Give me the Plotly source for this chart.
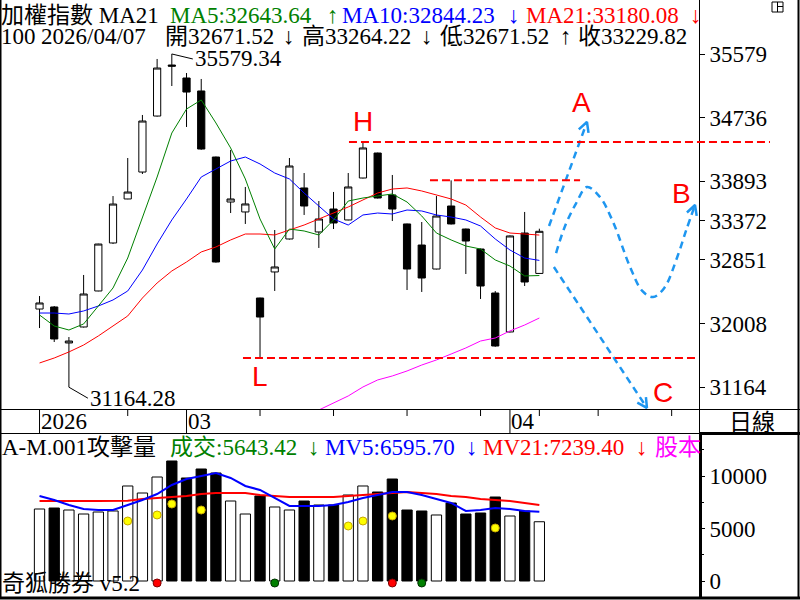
import numpy as np
import plotly.graph_objects as go

# ---------------- data ----------------
idx = list(range(35))
opens = [32200, 32227, 31750, 31962, 32439, 33075, 33658, 34015, 34757, 35433,
         35261, 35089, 34214, 33618, 33486, 32346, 32691, 33128, 33804, 33221,
         33525, 33380, 33936, 34267, 33711, 33327, 33048, 32730, 33565, 33260,
         32995, 32412, 31896, 33207, 32671.52]
highs = [32372, 32240, 31829, 32651, 33065, 33697, 34201, 34771, 35513, 35579.34,
         35327, 35248, 34220, 34307, 33817, 32350, 33247, 34201, 34002, 33631,
         33751, 34002, 34413, 34272, 33976, 33332, 33353, 33697, 33905, 33265,
         33000, 32438, 33175, 33486, 33264.22]
lows = [31948, 31763, 31164.28, 31955, 32435, 33062, 33655, 33989, 34750, 35155,
        34612, 34310, 32815, 33472, 33327, 31551, 32439, 33120, 33446, 33009,
        33260, 33375, 33930, 33665, 33366, 32452, 32426, 32725, 33320, 32664,
        32333, 31700, 31890, 32505, 32671.52]
closes = [32280, 31803, 31776, 32399, 33061, 33591, 33750, 34691, 35393, 35418,
          35075, 34320, 32823, 33658, 33592, 32094, 32757, 34095, 33565, 33393,
          33340, 33817, 34334, 33671, 33525, 32730, 32611, 33432, 33327, 33101,
          32505, 31710, 33168, 32558, 33229.82]
ma5 = [32121, 31975, 31922, 32002, 32240, 32479, 32876, 33406, 33949, 34532,
       34850, 34970, 34665, 34334, 33923, 33393, 32995, 33260, 33234, 33181,
       33380, 33631, 33671, 33698, 33724, 33618, 33433, 33207, 33115, 33035,
       32995, 32850, 32770, 32638, 32643.64]
ma10 = [32147, 32147, 32134, 32174, 32240, 32320, 32439, 32717, 33062, 33380,
        33658, 33949, 34055, 34161, 34214, 34122, 34002, 33923, 33737, 33565,
        33393, 33313, 33446, 33472, 33459, 33512, 33499, 33446, 33419, 33380,
        33300, 33128, 32982, 32876, 32844.23]
ma21 = [31485, 31551, 31631, 31723, 31843, 31975, 32108, 32346, 32545, 32704,
        32823, 32956, 33022, 33115, 33194, 33194, 33181, 33247, 33313, 33393,
        33472, 33552, 33645, 33737, 33790, 33804, 33764, 33711, 33658, 33578,
        33419, 33274, 33207, 33194, 33180.08]
ma100_idx = list(range(19, 35))
ma100 = [30862, 30955, 31048, 31167, 31260, 31313, 31379, 31458, 31525, 31604,
         31684, 31776, 31816, 31909, 31988, 32081]

volume = [6857, 6952, 6762, 6381, 6571, 6667, 9048, 8381, 9905, 11429,
          9810, 10667, 10286, 7619, 6381, 8095, 7048, 6762, 7619, 7238,
          7238, 8190, 9048, 8476, 9714, 6762, 6667, 6286, 7429, 6381,
          6476, 8000, 6190, 6667, 5643.42]
mv5 = [8095, 7714, 7238, 6857, 6762, 6762, 7238, 7714, 8286, 9143,
       9714, 10000, 10286, 9810, 9048, 8667, 7905, 7143, 7143, 7143,
       7238, 7524, 7905, 8190, 8476, 8476, 8190, 7810, 7429, 6667,
       6762, 6952, 6857, 6667, 6595.70]
mv21 = [7620, 7600, 7610, 7620, 7630, 7610, 7650, 7810, 7905, 8000,
        8095, 8286, 8381, 8381, 8381, 8190, 8095, 8000, 8000, 8000,
        8000, 8095, 8190, 8286, 8381, 8476, 8381, 8286, 8095, 8000,
        7810, 7714, 7619, 7429, 7239.40]
yellow_idx = [6, 8, 9, 11, 21, 22, 24, 31]
yellow_val = [5714, 6286, 7333, 6762, 5238, 5714, 6190, 5048]
red_idx = [8, 24]
green_idx = [16, 26]
signal_level = -190

price_ticks = [35579, 34736, 33893, 33372, 32851, 32008, 31164]
vol_ticks = [0, 5000, 10000]
date_tick_idx = [0, 10, 32]
date_tick_labels = ["2026", "03", "04"]
minor_tick_idx = [6, 15, 20, 25, 30, 34, 38, 43]
last_date = "2026/04/07"

# hand-drawn projection paths (bar index, price)
proj_A_idx = [34.66, 37.24]
proj_A_price = [33300, 34678]
proj_B_idx = [35.14, 35.75, 36.5, 37.24, 38.1, 39.0, 40.17, 41.0, 41.73, 42.5, 43.4, 44.0, 44.59]
proj_B_price = [32942, 33300, 33600, 33817, 33690, 33360, 32757, 32440, 32359, 32480, 32900, 33250, 33578]
proj_C_idx = [34.99, 41.32]
proj_C_price = [32757, 30889]
proj_labels = ["A", "B", "C"]
proj_label_idx = [36.84, 43.7, 42.41]
proj_label_price = [34930, 33737, 31100]

# ---------------- geometry ----------------
W, H = 800, 600
XR = [-2.62, 44.86]
XD = [1 / W, 699 / W]
YR_MAIN = [30875.25, 36294.5]
YD_MAIN = [191 / H, 1.0]
YR_VOL = [-1524, 14095]
YD_VOL = [3 / H, 167 / H]

def i2px(i):
    return XD[0] * W + (i - XR[0]) / (XR[1] - XR[0]) * (XD[1] - XD[0]) * W

def px2i(px):
    return XR[0] + (px - XD[0] * W) / ((XD[1] - XD[0]) * W) * (XR[1] - XR[0])

def p2py(p):
    top = (1 - YD_MAIN[1]) * H
    bot = (1 - YD_MAIN[0]) * H
    return top + (YR_MAIN[1] - p) / (YR_MAIN[1] - YR_MAIN[0]) * (bot - top)

def py2p(py):
    top = (1 - YD_MAIN[1]) * H
    bot = (1 - YD_MAIN[0]) * H
    return YR_MAIN[1] - (py - top) / (bot - top) * (YR_MAIN[1] - YR_MAIN[0])

def ypap(py):
    return 1 - py / H

SERIF = "Liberation Serif, 'Noto Sans CJK TC', serif"
SANS = "Liberation Sans, Arial, sans-serif"
GREEN, BLUE, RED, MAG = "#008000", "#0000FF", "#FF0000", "#FF00FF"
PBLUE = "#1E96F0"

fig = go.Figure()

# ---------------- main panel ----------------
fig.add_trace(go.Candlestick(
    x=idx, open=opens, high=highs, low=lows, close=closes,
    increasing=dict(line=dict(color="black", width=1), fillcolor="white"),
    decreasing=dict(line=dict(color="black", width=1), fillcolor="black"),
    whiskerwidth=0, xaxis="x", yaxis="y", showlegend=False, hoverinfo="skip"))
for vals, col in [(ma21, RED), (ma10, BLUE), (ma5, GREEN)]:
    fig.add_trace(go.Scatter(x=idx, y=vals, mode="lines", line=dict(color=col, width=1),
                             xaxis="x", yaxis="y", showlegend=False, hoverinfo="skip"))
fig.add_trace(go.Scatter(x=ma100_idx, y=ma100, mode="lines", line=dict(color=MAG, width=1),
                         xaxis="x", yaxis="y", showlegend=False, hoverinfo="skip"))

# projections
fig.add_trace(go.Scatter(x=proj_A_idx, y=proj_A_price, mode="lines",
                         line=dict(color=PBLUE, width=2.5, dash="7px,5px"), showlegend=False,
                         xaxis="x", yaxis="y", hoverinfo="skip"))
fig.add_trace(go.Scatter(x=proj_B_idx, y=proj_B_price, mode="lines",
                         line=dict(color=PBLUE, width=2.5, dash="7px,5px", shape="spline", smoothing=1.0),
                         showlegend=False, xaxis="x", yaxis="y", hoverinfo="skip"))
fig.add_trace(go.Scatter(x=proj_C_idx, y=proj_C_price, mode="lines",
                         line=dict(color=PBLUE, width=2.5, dash="7px,5px"), showlegend=False,
                         xaxis="x", yaxis="y", hoverinfo="skip"))

# open V arrowheads
def arrowhead(xs, ys, L=11, ang=28):
    tx, ty = i2px(xs[-1]), p2py(ys[-1])
    bx, by = i2px(xs[-2]), p2py(ys[-2])
    d = np.array([tx - bx, ty - by]); d = d / np.linalg.norm(d)
    hx, hy = [], []
    for s in (1, -1):
        a = np.radians(ang) * s
        r = np.array([d[0] * np.cos(a) - d[1] * np.sin(a), d[0] * np.sin(a) + d[1] * np.cos(a)])
        w = np.array([tx, ty]) - L * r
        hx += [px2i(w[0]), xs[-1]]
        hy += [py2p(w[1]), ys[-1]]
    return [hx[0], hx[1], hx[2]], [hy[0], hy[1], hy[2]]

for xs, ys in [(proj_A_idx, proj_A_price), (proj_B_idx, proj_B_price), (proj_C_idx, proj_C_price)]:
    ax_, ay_ = arrowhead(xs, ys)
    fig.add_trace(go.Scatter(x=ax_, y=ay_, mode="lines", line=dict(color=PBLUE, width=2.5),
                             showlegend=False, xaxis="x", yaxis="y", hoverinfo="skip", cliponaxis=False))

# ---------------- volume panel ----------------
vol_colors = ["white" if c >= o else "black" for o, c in zip(opens, closes)]
fig.add_trace(go.Bar(x=idx, y=volume, width=0.7, marker=dict(color=vol_colors, line=dict(color="black", width=1)),
                     xaxis="x2", yaxis="y2", showlegend=False, hoverinfo="skip"))
fig.add_trace(go.Scatter(x=idx, y=mv21, mode="lines", line=dict(color=RED, width=2),
                         xaxis="x2", yaxis="y2", showlegend=False, hoverinfo="skip"))
fig.add_trace(go.Scatter(x=idx, y=mv5, mode="lines", line=dict(color=BLUE, width=2),
                         xaxis="x2", yaxis="y2", showlegend=False, hoverinfo="skip"))
fig.add_trace(go.Scatter(x=yellow_idx, y=yellow_val, mode="markers",
                         marker=dict(color="#FFFF00", size=8, line=dict(color="#C8A800", width=1)),
                         xaxis="x2", yaxis="y2", showlegend=False, hoverinfo="skip"))
fig.add_trace(go.Scatter(x=red_idx, y=[signal_level] * len(red_idx), mode="markers",
                         marker=dict(color="#FF0000", size=8, line=dict(color="#800000", width=1)),
                         xaxis="x2", yaxis="y2", showlegend=False, hoverinfo="skip", cliponaxis=False))
fig.add_trace(go.Scatter(x=green_idx, y=[signal_level] * len(green_idx), mode="markers",
                         marker=dict(color="#008000", size=8, line=dict(color="#003000", width=1)),
                         xaxis="x2", yaxis="y2", showlegend=False, hoverinfo="skip", cliponaxis=False))

# ---------------- shapes ----------------
shapes = []
def pline(x0, y0, x1, y1, w=1, color="black"):
    shapes.append(dict(type="line", xref="paper", yref="paper", x0=x0 / W, x1=x1 / W,
                       y0=ypap(y0), y1=ypap(y1), line=dict(color=color, width=w), layer="above"))

pline(0.75, 0, 0.75, 598, 1.5)
pline(0, 409.5, 800, 409.5, 1)
pline(0, 433.5, 700, 433.5, 1)
pline(699, 433.5, 800, 433.5, 3)
pline(699.5, 0, 699.5, 433, 1)
pline(700.5, 433, 700.5, 598, 3)
pline(0, 598, 800, 598, 3)
pline(798.5, 0, 798.5, 598, 2)
# icon
shapes.append(dict(type="rect", xref="paper", yref="paper", x0=772 / W, x1=783 / W,
                   y0=ypap(12), y1=ypap(2), line=dict(color="black", width=1)))
pline(777.5, 2, 777.5, 12, 1)
pline(777.5, 6.5, 783, 6.5, 1)

# date ticks
for i in minor_tick_idx:
    shapes.append(dict(type="line", xref="x", yref="paper", x0=i, x1=i,
                       y0=ypap(409.5), y1=ypap(416), line=dict(color="black", width=1)))
for i in date_tick_idx:
    shapes.append(dict(type="line", xref="x", yref="paper", x0=i, x1=i,
                       y0=ypap(409.5), y1=ypap(433), line=dict(color="black", width=1)))

# support/resistance dashed lines
hi_i = 22; lo_i = 15; mid_i = 28
shapes.append(dict(type="line", xref="paper", yref="y", x0=i2px(21.05) / W, x1=770 / W,
                   y0=highs[hi_i], y1=highs[hi_i], line=dict(color=RED, width=2, dash="8px,4px")))
shapes.append(dict(type="line", xref="x", yref="y", x0=13.84, x1=44.73,
                   y0=lows[lo_i], y1=lows[lo_i], line=dict(color=RED, width=2, dash="8px,4px")))
shapes.append(dict(type="line", xref="x", yref="y", x0=26.56, x1=36.77,
                   y0=highs[mid_i], y1=highs[mid_i], line=dict(color=RED, width=2, dash="8px,4px")))

# ---------------- annotations ----------------
ann = []
def txt(x, y, s, color="black", size=23, font=SERIF, xanchor="left"):
    ann.append(dict(x=x / W, y=ypap(y), xref="paper", yref="paper", text=s, showarrow=False,
                    xanchor=xanchor, yanchor="middle", borderpad=0,
                    font=dict(family=font, size=size, color=color)))

txt(0, 15, "加權指數 MA21")
txt(169, 15, f"MA5:{ma5[-1]:.2f}", GREEN)
txt(326, 15, "↑", GREEN)
txt(341, 15, f"MA10:{ma10[-1]:.2f}", BLUE)
txt(507, 15, "↓", BLUE)
txt(525, 15, f"MA21:{ma21[-1]:.2f}", RED)
txt(689, 15, "↓", RED)
txt(0, 37, "100")
txt(40, 37, last_date)
txt(164, 37, f"開{opens[-1]:.2f}")
txt(282, 37, "↓")
txt(301, 37, f"高{highs[-1]:.2f}")
txt(420, 37, "↓")
txt(439, 37, f"低{lows[-1]:.2f}")
txt(559, 37, "↑")
txt(577, 37, f"收{closes[-1]:.2f}")

txt(1, 447, "A-M.001攻擊量")
txt(169, 447, f"成交:{volume[-1]:.2f}", GREEN)
txt(307, 447, "↓", GREEN)
txt(324, 447, f"MV5:{mv5[-1]:.2f}", BLUE)
txt(465, 447, "↓", BLUE)
txt(482, 447, f"MV21:{mv21[-1]:.2f}", RED)
txt(635, 447, "↓", RED)
txt(654, 447, "股本", MAG)
txt(1, 583, "奇狐勝券 v5.2")
txt(752, 422, "日線", xanchor="center")

for i, lab in zip(date_tick_idx, date_tick_labels):
    ann.append(dict(x=i, y=ypap(421), xref="x", yref="paper", text=lab, showarrow=False,
                    xanchor="left", yanchor="middle", borderpad=0,
                    font=dict(family=SERIF, size=23, color="black")))

imax = int(np.argmax(highs)); imin = int(np.argmin(lows))
ann.append(dict(x=imax, y=highs[imax], xref="x", yref="y", text=f"{highs[imax]:.2f}",
                showarrow=True, arrowhead=0, arrowwidth=1, arrowcolor="black", ax=21, ay=5,
                xanchor="left", yanchor="middle", font=dict(family=SERIF, size=23, color="black")))
ann.append(dict(x=imin, y=lows[imin], xref="x", yref="y", text=f"{lows[imin]:.2f}",
                showarrow=True, arrowhead=0, arrowwidth=1, arrowcolor="black", ax=19, ay=11,
                xanchor="left", yanchor="middle", font=dict(family=SERIF, size=23, color="black")))

ann.append(dict(x=hi_i, y=highs[hi_i], xref="x", yref="y", text="H", showarrow=False,
                yshift=21, font=dict(family=SANS, size=28, color=RED)))
ann.append(dict(x=lo_i, y=lows[lo_i], xref="x", yref="y", text="L", showarrow=False,
                yshift=-18, font=dict(family=SANS, size=28, color=RED)))
for lab, li, lp in zip(proj_labels, proj_label_idx, proj_label_price):
    ann.append(dict(x=li, y=lp, xref="x", yref="y", text=lab, showarrow=False,
                    font=dict(family=SANS, size=28, color=RED)))

fig.update_layout(
    width=W, height=H, margin=dict(l=0, r=0, t=0, b=0),
    paper_bgcolor="white", plot_bgcolor="white", showlegend=False,
    bargap=0.3,
    xaxis=dict(domain=XD, range=XR, showgrid=False, zeroline=False, showticklabels=False,
               ticks="", rangeslider=dict(visible=False), anchor="y", fixedrange=True),
    yaxis=dict(domain=YD_MAIN, range=YR_MAIN, side="right", anchor="x", showgrid=False, zeroline=False,
               tickmode="array", tickvals=price_ticks, ticktext=[str(v) for v in price_ticks],
               ticks="outside", ticklen=5, tickcolor="black", tickwidth=1,
               tickfont=dict(family=SERIF, size=23, color="black"), showline=False, automargin=False),
    xaxis2=dict(domain=XD, range=XR, showgrid=False, zeroline=False, showticklabels=False,
                ticks="", anchor="y2"),
    yaxis2=dict(domain=YD_VOL, range=YR_VOL, side="right", anchor="x2", showgrid=False, zeroline=False,
                tickmode="array", tickvals=vol_ticks, ticktext=[str(v) for v in vol_ticks],
                ticks="outside", ticklen=5, tickcolor="black", tickwidth=1, automargin=False,
                tickfont=dict(family=SERIF, size=23, color="black"), showline=False,
                minor=dict(tickvals=[2500, 7500, 12500], ticks="outside", ticklen=4, tickcolor="black")),
    shapes=shapes, annotations=ann,
)
fig.write_html("out.html", config={"displayModeBar": False},
               post_script="document.body.style.margin='0px';document.body.style.overflow='hidden';")
